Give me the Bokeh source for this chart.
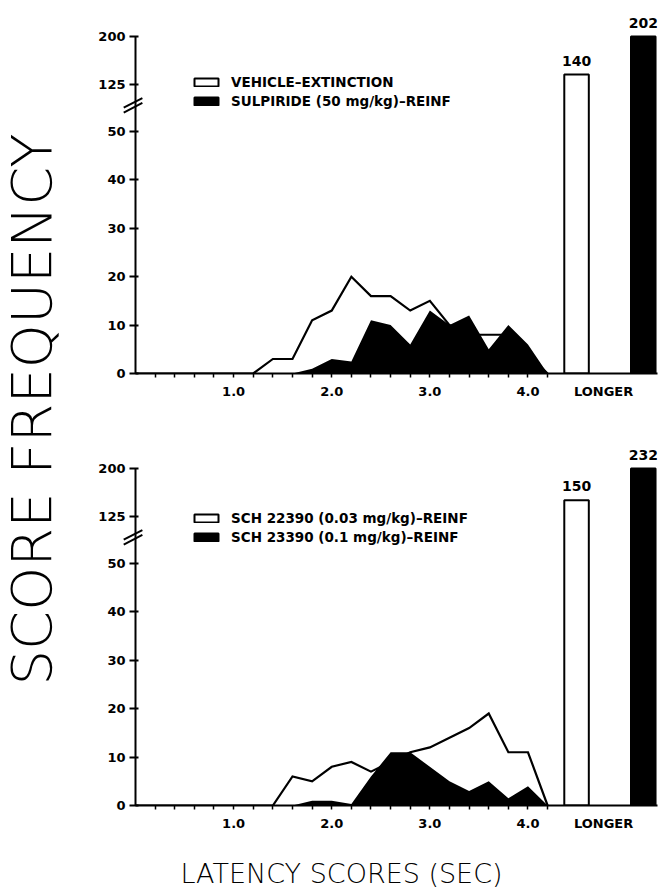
import numpy as np
from bokeh.plotting import figure
from bokeh.models import FixedTicker, Range1d, Legend, LegendItem
from bokeh.layouts import row, column
from bokeh.core.properties import value
from bokeh.embed import file_html
from bokeh.resources import INLINE

# ---------------- data ----------------
LATENCY = [0.0, 0.2, 0.4, 0.6, 0.8, 1.0, 1.2, 1.4, 1.6, 1.8, 2.0,
           2.2, 2.4, 2.6, 2.8, 3.0, 3.2, 3.4, 3.6, 3.8, 4.0, 4.2]

TOP_WHITE = [0, 0, 0, 0, 0, 0, 0, 3, 3, 11, 13, 20, 16, 16, 13, 15, 10, 8, 8, 8, 4, 0]
TOP_BLACK = [0, 0, 0, 0, 0, 0, 0, 0, 0, 1, 3, 2.5, 11, 10, 6, 13, 10, 12, 5, 10, 6, 0]
BOT_WHITE = [0, 0, 0, 0, 0, 0, 0, 0, 6, 5, 8, 9, 7, 9, 11, 12, 14, 16, 19, 11, 11, 0]
BOT_BLACK = [0, 0, 0, 0, 0, 0, 0, 0, 0, 1, 1, 0.3, 6, 11, 11, 8, 5, 3, 5, 1.5, 4, 0]

TOP_LONGER = [140, 202]   # white, black
BOT_LONGER = [150, 232]

TOP_NAMES = ["VEHICLE\u2013EXTINCTION", "SULPIRIDE (50 mg/kg)\u2013REINF"]
BOT_NAMES = ["SCH 22390 (0.03 mg/kg)\u2013REINF", "SCH 23390 (0.1 mg/kg)\u2013REINF"]

X_TICKS = [1.0, 2.0, 3.0, 4.0]
X_TICK_LABELS = ["1.0", "2.0", "3.0", "4.0"]
LONGER_LABEL = "LONGER"
Y_TICKS_LOW = [0, 10, 20, 30, 40, 50]
Y_TICKS_HIGH = [125, 200]

Y_LABEL = "SCORE FREQUENCY"
X_LABEL = "LATENCY SCORES (SEC)"

# ---------------- layout constants ----------------
BOLD_FONT = "DejaVu Sans"
THIN_FONT = "DejaVu Sans ExtraLight, DejaVu Sans Light, Lato Light, DejaVu Sans"
Y_END = 75.4
LOW_MAX = 50
HI_LO_DISP = 59.8     # display position of 125
HI_HI_DISP = 69.6     # display position of 200
AXIS_MAX = 200
SLOPE = (HI_HI_DISP - HI_LO_DISP) / (Y_TICKS_HIGH[1] - Y_TICKS_HIGH[0])
BRK_START = Y_TICKS_HIGH[0] - HI_LO_DISP / SLOPE
BRK_END = Y_TICKS_HIGH[0] + (Y_END - HI_LO_DISP) / SLOPE
LONGER_X = 4.77
WHITE_BAR = (4.37, 4.62)
BLACK_BAR = (5.05, 5.30)
X_START, X_END = 0.0, 5.32
MINOR = [round(0.2 * i, 1) for i in range(1, 22)]


def disp(v):
    if v <= LOW_MAX:
        return v
    return HI_LO_DISP + (v - Y_TICKS_HIGH[0]) * SLOPE


def make_panel(white, black, longer, names, legend_loc, border_top, border_bottom):
    p = figure(width=601, height=365 + border_top + border_bottom,
               x_range=Range1d(X_START, X_END), y_range=Range1d(0, Y_END),
               output_backend="svg", toolbar_location=None,
               min_border_left=67, min_border_right=12, min_border_top=border_top,
               min_border_bottom=border_bottom)
    p.extra_y_ranges = {"brk": Range1d(BRK_START, BRK_END)}
    p.outline_line_color = None
    p.grid.visible = False
    p.background_fill_color = "white"

    # data
    p.line(LATENCY, white, line_color="black", line_width=2.2, line_join="miter")
    p.varea(x=LATENCY, y1=0, y2=black, fill_color="black")

    wtop = min(longer[0], AXIS_MAX)
    btop = min(longer[1], AXIS_MAX)
    wbar = p.quad(left=[WHITE_BAR[0]], right=[WHITE_BAR[1]], bottom=[BRK_START], top=[wtop],
                  fill_color="white", line_color="black", line_width=2, y_range_name="brk")
    bbar = p.quad(left=[BLACK_BAR[0]], right=[BLACK_BAR[1]], bottom=[BRK_START], top=[btop],
                  fill_color="black", line_color="black", line_width=2, y_range_name="brk")
    p.text(x=[(WHITE_BAR[0] + WHITE_BAR[1]) / 2, (BLACK_BAR[0] + BLACK_BAR[1]) / 2],
           y=[wtop, btop], text=[str(longer[0]), str(longer[1])], y_range_name="brk",
           y_offset=-14, text_align="center", text_baseline="middle",
           text_font=value(BOLD_FONT), text_font_style="bold", text_font_size="14px",
           text_color="black")

    # axis break marks (two slanted strokes across the y axis)
    p.segment(x0=[-0.12, -0.12], y0=[53.9, 54.9], x1=[0.07, 0.07], y1=[55.9, 56.9],
              line_color="black", line_width=2, level="overlay")

    # y axis
    ya = p.yaxis[0]
    ya.bounds = (0, disp(AXIS_MAX))
    hi = [disp(v) for v in Y_TICKS_HIGH]
    ya.ticker = FixedTicker(ticks=Y_TICKS_LOW + hi, minor_ticks=[])
    ya.major_label_overrides = {h: str(v) for h, v in zip(hi, Y_TICKS_HIGH)}
    ya.axis_line_width = 2
    ya.major_tick_line_width = 2
    ya.major_tick_out = 6
    ya.major_tick_in = 3
    ya.major_label_standoff = 4
    ya.major_label_text_font = BOLD_FONT
    ya.major_label_text_font_style = "bold"
    ya.major_label_text_font_size = "13px"
    ya.major_label_text_color = "black"

    # x axis
    xa = p.xaxis[0]
    xa.bounds = (0, X_END)
    xa.ticker = FixedTicker(ticks=X_TICKS + [LONGER_X], minor_ticks=MINOR)
    ov = {t: l for t, l in zip(X_TICKS, X_TICK_LABELS)}
    ov[LONGER_X] = LONGER_LABEL
    xa.major_label_overrides = ov
    xa.axis_line_width = 2
    xa.major_tick_out = 0
    xa.major_tick_in = 0
    xa.minor_tick_out = 4
    xa.minor_tick_in = 0
    xa.minor_tick_line_width = 1.5
    xa.major_label_standoff = 6
    xa.major_label_text_font = BOLD_FONT
    xa.major_label_text_font_style = "bold"
    xa.major_label_text_font_size = "13px"
    xa.major_label_text_color = "black"

    legend = Legend(items=[LegendItem(label=names[0], renderers=[wbar]),
                           LegendItem(label=names[1], renderers=[bbar])],
                    location=legend_loc, orientation="vertical",
                    glyph_width=30, glyph_height=10, label_standoff=10,
                    spacing=3, padding=0, margin=0, label_height=14,
                    label_text_font=BOLD_FONT, label_text_font_style="bold",
                    label_text_font_size="13.5px", label_text_color="black",
                    border_line_color=None, background_fill_alpha=0)
    p.add_layout(legend)
    return p


top = make_panel(TOP_WHITE, TOP_BLACK, TOP_LONGER, TOP_NAMES, (56, 264), 8, 67)
bot = make_panel(BOT_WHITE, BOT_BLACK, BOT_LONGER, BOT_NAMES, (56, 260), 0, 40)

# left title
LF_W, LF_H = 68, 845
lf = figure(width=LF_W, height=LF_H, x_range=Range1d(0, LF_W), y_range=Range1d(0, LF_H),
            min_border=0, toolbar_location=None, output_backend="svg",
            x_axis_type=None, y_axis_type=None)
lf.outline_line_color = None
lf.grid.visible = False
lf.text(x=[31], y=[LF_H - 409], text=[Y_LABEL], angle=np.pi / 2, text_align="center",
        text_baseline="middle", text_font_size="56px", text_font=value(THIN_FONT),
        text_color="black")

# bottom title
BF_W, BF_H = 669, 47
bf = figure(width=BF_W, height=BF_H, x_range=Range1d(0, BF_W), y_range=Range1d(0, BF_H),
            min_border=0, toolbar_location=None, output_backend="svg",
            x_axis_type=None, y_axis_type=None)
bf.outline_line_color = None
bf.grid.visible = False
bf.text(x=[341], y=[19], text=[X_LABEL], text_align="center", text_baseline="middle",
        text_font_size="27px", text_font=value(THIN_FONT), text_color="black")

layout = column(row(lf, column(top, bot)), bf)
open("out.html", "w").write(file_html(layout, INLINE))
